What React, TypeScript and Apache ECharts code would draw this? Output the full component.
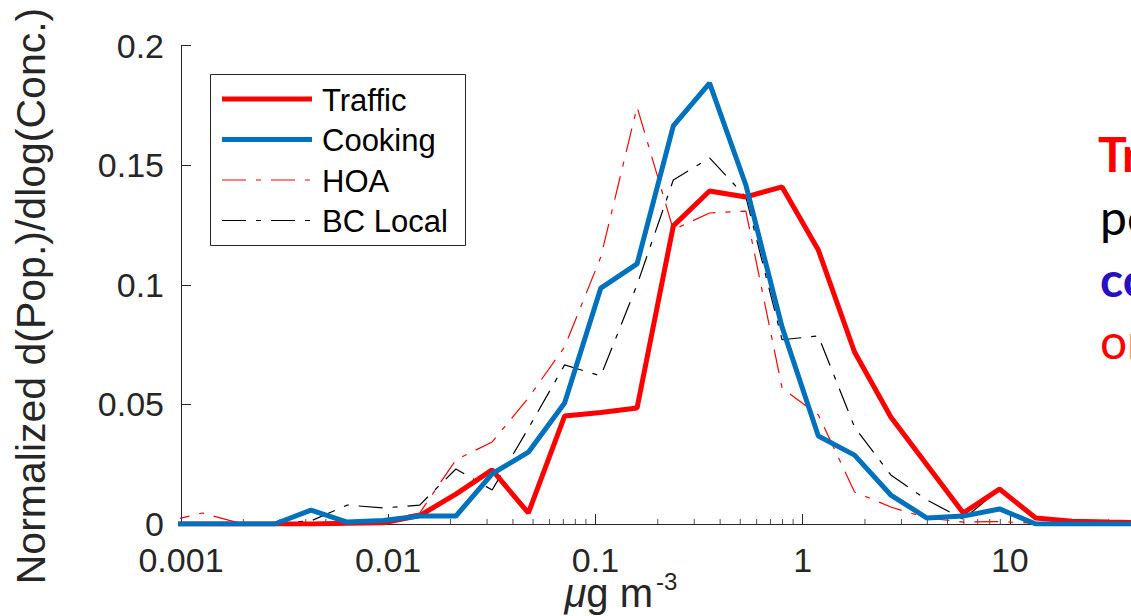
import React, { useEffect, useRef } from "react";
import * as echarts from "echarts";

// concentration bin centres (µg m-3)
const xBins = [
  0.000847, 0.001267, 0.001894, 0.002834, 0.004239, 0.00634, 0.009484, 0.01419,
  0.02122, 0.03174, 0.04748, 0.07102, 0.1062, 0.1589, 0.2377, 0.3556, 0.5321,
  0.7962, 1.191, 1.781, 2.665, 3.986, 5.963, 8.919, 13.34, 19.96, 29.85, 44.66, 66.8,
];

const traffic = [
  0, 0, 0, 0, 0, 0.0003, 0.0005, 0.0035, 0.0125, 0.0226, 0.0046, 0.0451, 0.0466,
  0.0485, 0.1246, 0.1392, 0.1367, 0.1409, 0.1145, 0.0719, 0.0447, 0.0247, 0.0046,
  0.0146, 0.0025, 0.0012, 0.0008, 0.0005, 0.0003,
];

const cooking = [
  0, 0, 0, 0, 0.0058, 0.0008, 0.0015, 0.0033, 0.0033, 0.021, 0.03, 0.0506, 0.0986,
  0.1087, 0.1664, 0.1843, 0.1417, 0.0823, 0.0368, 0.0288, 0.0121, 0.0025, 0.0033,
  0.0063, 0, 0, 0, 0, 0,
];

const hoa = [
  0.001, 0.0046, 0.0005, 0.0003, 0.0002, 0.0008, 0.0017, 0.0046, 0.0268, 0.0343,
  0.0527, 0.074, 0.1116, 0.1743, 0.123, 0.13, 0.1308, 0.0568, 0.0456, 0.0134,
  0.0071, 0.0025, 0.0008, 0.001, 0.0003, 0, 0, 0, 0,
];

const bcLocal = [
  0, 0, 0, 0.0003, 0.0013, 0.0079, 0.0067, 0.0079, 0.023, 0.0142, 0.04, 0.0665,
  0.0619, 0.1, 0.1438, 0.153, 0.1367, 0.077, 0.0786, 0.0405, 0.0205, 0.01, 0.002,
  0.0146, 0.0025, 0, 0, 0, 0,
];

const decades = [0.001, 0.01, 0.1, 1, 10];
const minorMultipliers = [2, 3, 4, 5, 6, 7, 8, 9];

const seriesNames = ["Traffic", "Cooking", "HOA", "BC Local"];
const sideTexts = ["Traffic", "peaks", "cooking", "or"];

const FONT = "'Liberation Sans', Arial, Helvetica, sans-serif";
const SIDE_FONT = "Lato, 'Open Sans', sans-serif";
const AXIS_COLOR = "#262626";
const DASH_DOT = [24, 10, 5, 10];

const STYLES: Record<string, { color: string; width: number; type: any }> = {
  Traffic: { color: "#ff0000", width: 5, type: "solid" },
  Cooking: { color: "#0072bd", width: 5, type: "solid" },
  HOA: { color: "#ff0000", width: 1.2, type: DASH_DOT },
  "BC Local": { color: "#000000", width: 1.2, type: DASH_DOT },
};

function fmtLog(v: number): string {
  const e = Math.round(Math.log10(v));
  if (e >= 2) return "";
  if (e < 0) return Math.pow(10, e).toFixed(-e);
  return String(Math.round(Math.pow(10, e)));
}

export default function App() {
  const ref = useRef<HTMLDivElement>(null);

  useEffect(() => {
    if (!ref.current) return;
    const chart = echarts.init(ref.current, undefined, { renderer: "svg" });

    const minorTicks: number[][] = [];
    decades.forEach((d) => minorMultipliers.forEach((m) => minorTicks.push([d * m, 0])));

    const pair = (arr: number[]) => xBins.map((x, i) => [x, arr[i]]);

    const lineSeries = (name: string, arr: number[], z: number) => ({
      name,
      type: "line",
      data: pair(arr),
      symbol: "none",
      showSymbol: false,
      lineStyle: { ...STYLES[name] },
      itemStyle: { color: STYLES[name].color },
      z,
    });

    // legend drawn as graphic (box, sample lines, labels)
    const LEG_X = 210, LEG_Y = 74, LEG_W = 255, LEG_H = 171;
    const rowY = (i: number) => 99 + i * 40.5;
    const legendEls: any[] = [
      {
        type: "rect",
        shape: { x: LEG_X + 0.5, y: LEG_Y + 0.5, width: LEG_W, height: LEG_H },
        style: { fill: "#ffffff", stroke: AXIS_COLOR, lineWidth: 1 },
        z: 10,
      },
    ];
    seriesNames.forEach((n, i) => {
      const s = STYLES[n];
      legendEls.push({
        type: "line",
        shape: { x1: 222, y1: rowY(i), x2: 312, y2: rowY(i) },
        style: {
          stroke: s.color,
          lineWidth: s.width,
          lineDash: Array.isArray(s.type) ? s.type : null,
        },
        z: 11,
      });
      legendEls.push({
        type: "text",
        x: 322,
        y: rowY(i) + 1,
        style: {
          text: n,
          fill: "#000000",
          fontSize: 31,
          fontFamily: FONT,
          align: "left",
          verticalAlign: "middle",
        },
        z: 11,
      });
    });

    const option: any = {
      animation: false,
      backgroundColor: "#ffffff",
      grid: { left: 181, top: 45.5, bottom: 92, right: 0.5, containLabel: false },
      xAxis: {
        type: "log",
        logBase: 10,
        min: 0.001,
        max: 100,
        axisLine: { show: true, lineStyle: { color: AXIS_COLOR, width: 1 } },
        axisTick: { show: true, inside: true, length: 10, lineStyle: { color: AXIS_COLOR, width: 1 } },
        axisLabel: { fontSize: 34, lineHeight: 30, color: AXIS_COLOR, margin: 21, fontFamily: FONT, formatter: fmtLog },
        splitLine: { show: false },
        minorTick: { show: false },
      },
      yAxis: {
        type: "value",
        min: 0,
        max: 0.2,
        interval: 0.05,
        axisLine: { show: true, lineStyle: { color: AXIS_COLOR, width: 1 } },
        axisTick: { show: true, inside: true, length: 10, lineStyle: { color: AXIS_COLOR, width: 1 } },
        axisLabel: { fontSize: 34, color: AXIS_COLOR, margin: 17, fontFamily: FONT },
        splitLine: { show: false },
      },
      graphic: [
        ...legendEls,
        {
          type: "text",
          x: 653,
          y: 593,
          style: {
            text: "{mu|μ}g m",
            align: "right",
            verticalAlign: "middle",
            fill: AXIS_COLOR,
            fontSize: 40,
            fontFamily: FONT,
            lineHeight: 30,
            rich: {
              mu: { fontStyle: "italic", fontSize: 40, fontFamily: FONT, fill: AXIS_COLOR, lineHeight: 30 },
            },
          },
        },
        {
          type: "text",
          x: 656,
          y: 581,
          style: {
            text: "-3",
            align: "left",
            verticalAlign: "middle",
            fill: AXIS_COLOR,
            fontSize: 24,
            fontFamily: FONT,
          },
        },
        {
          type: "text",
          x: 31,
          y: 296,
          rotation: Math.PI / 2,
          style: {
            text: "Normalized d(Pop.)/dlog(Conc.)",
            align: "center",
            verticalAlign: "middle",
            fill: AXIS_COLOR,
            fontSize: 41,
            fontFamily: FONT,
          },
        },
        {
          type: "text",
          x: 1098,
          y: 153,
          style: { text: sideTexts[0], fill: "#ff0000", fontSize: 48, fontWeight: "bold", fontFamily: SIDE_FONT, align: "left", verticalAlign: "middle" },
        },
        {
          type: "text",
          x: 1100,
          y: 216,
          style: { text: sideTexts[1], fill: "#000000", fontSize: 48, fontFamily: SIDE_FONT, align: "left", verticalAlign: "middle" },
        },
        {
          type: "text",
          x: 1100,
          y: 278,
          style: { text: sideTexts[2], fill: "#2a0fc0", fontSize: 48, fontWeight: "bold", fontFamily: SIDE_FONT, align: "left", verticalAlign: "middle" },
        },
        {
          type: "text",
          x: 1100,
          y: 340,
          style: { text: sideTexts[3], fill: "#ff0000", fontSize: 48, fontFamily: SIDE_FONT, align: "left", verticalAlign: "middle" },
        },
      ],
      series: [
        {
          name: "minorTicks",
          type: "scatter",
          data: minorTicks,
          symbol: "rect",
          symbolSize: [1, 5],
          symbolOffset: [0, -2.5],
          itemStyle: { color: AXIS_COLOR },
          silent: true,
          z: 1,
        },
        lineSeries("HOA", hoa, 3),
        lineSeries("BC Local", bcLocal, 3),
        lineSeries("Traffic", traffic, 4),
        lineSeries("Cooking", cooking, 5),
      ],
    };

    chart.setOption(option);
    return () => chart.dispose();
  }, []);

  return (
    <div
      style={{ position: "fixed", left: 0, top: 0, width: 1131, height: 616, overflow: "hidden", background: "#fff" }}
    >
      <div ref={ref} style={{ width: 1220, height: 616 }} />
    </div>
  );
}
